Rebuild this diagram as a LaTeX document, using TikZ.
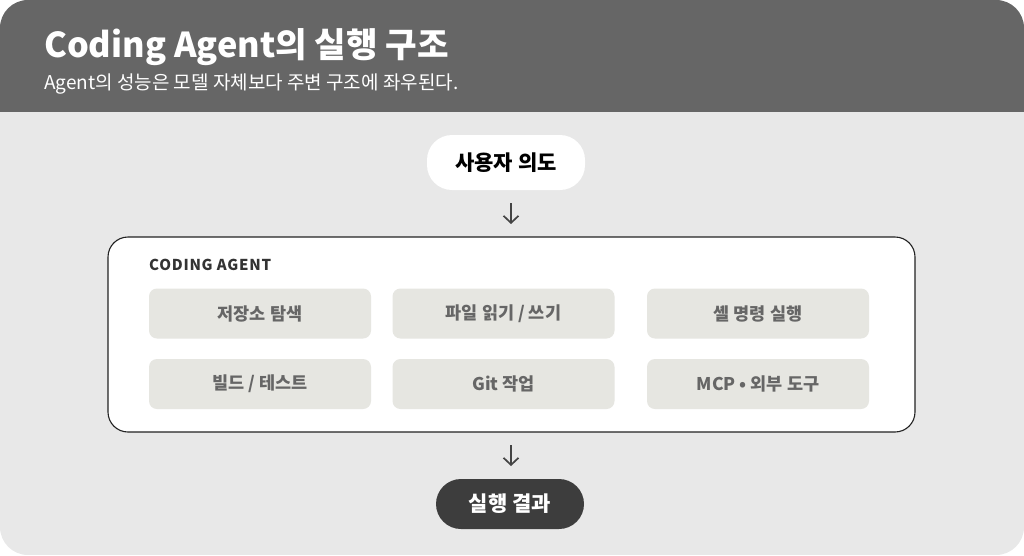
\documentclass[tikz,border=0pt]{standalone}
\usepackage{fontspec}
\setmainfont{Noto Sans CJK KR}
\newfontfamily\labelfont[LetterSpace=5]{Noto Sans CJK KR}
\usetikzlibrary{arrows.meta}
\definecolor{hdr}{HTML}{666666}
\definecolor{bg}{HTML}{E8E8E8}
\definecolor{cellfill}{HTML}{E6E6E1}
\definecolor{celltext}{HTML}{666666}
\definecolor{darkpill}{HTML}{3D3D3D}
\definecolor{arrowc}{HTML}{444444}
\definecolor{boxline}{HTML}{222222}
\definecolor{labeltext}{HTML}{333333}
\tikzset{
  pillbox/.style={rectangle, rounded corners=25pt, inner sep=0pt, font=\bfseries\fontsize{21}{21}\selectfont},
  agentbox/.style={rectangle, rounded corners=20pt, draw=boxline, line width=1.1pt, fill=white, inner sep=0pt, minimum width=807pt, minimum height=195pt},
  cellbox/.style={rectangle, rounded corners=8pt, fill=cellfill, inner sep=0pt, minimum width=222pt, minimum height=50pt, text=celltext, font=\bfseries\fontsize{17.5}{17.5}\selectfont},
  flow/.style={draw=arrowc, line width=1.7pt, -{Straight Barb[length=7pt,width=15pt]}, shorten <=13pt, shorten >=13pt}
}
\begin{document}
\begin{tikzpicture}[x=1pt,y=-1pt]
\useasboundingbox (0,0) rectangle (1024,555);
\begin{scope}
\clip[rounded corners=28pt] (0,0) rectangle (1024,555);
\fill[bg] (0,0) rectangle (1024,555);
\fill[hdr] (0,0) rectangle (1024,112);
\end{scope}
\node[anchor=base west, inner sep=0pt, text=white, font=\bfseries\fontsize{34.3}{34.3}\selectfont] (title) at (44,57) {Coding Agent의 실행 구조};
\node[anchor=base west, inner sep=0pt, text=white, font=\fontsize{19}{19}\selectfont] (subtitle) at (44,89.5) {Agent의 성능은 모델 자체보다 주변 구조에 좌우된다.};

\node[pillbox, fill=white, text=black, minimum width=158pt, minimum height=55pt] (intent) at (506,162.5) {사용자 의도};

\node[agentbox] (agent) at (511.5,334.5) {};
\node[anchor=base west, inner sep=0pt, text=labeltext, font=\labelfont\bfseries\fontsize{15}{15}\selectfont] (agentlabel) at (149,270) {CODING AGENT};

\node[cellbox] (c1) at (260,313.5) {저장소 탐색};
\node[cellbox] (c2) at (503.5,313.5) {파일 읽기 / 쓰기};
\node[cellbox] (c3) at (758,313.5) {셸 명령 실행};
\node[cellbox] (c4) at (260,384) {빌드 / 테스트};
\node[cellbox] (c5) at (503.5,384) {Git 작업};
\node[cellbox] (c6) at (758,384) {MCP • 외부 도구};

\node[pillbox, fill=darkpill, text=white, minimum width=148pt, minimum height=50pt] (result) at (510,504) {실행 결과};

\coordinate (a1s) at (511,190);
\coordinate (a1e) at (511,237);
\draw[flow] (a1s) -- (a1e);
\coordinate (a2s) at (511,432);
\coordinate (a2e) at (511,479);
\draw[flow] (a2s) -- (a2e);
\end{tikzpicture}
\end{document}
